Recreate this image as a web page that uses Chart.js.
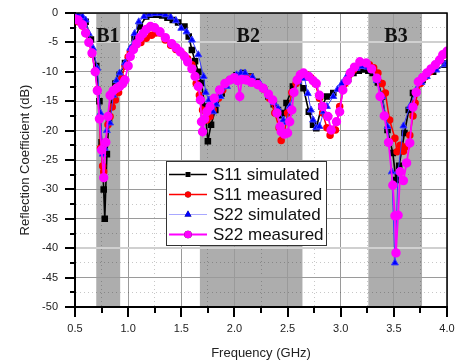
<!DOCTYPE html>
<html>
<head>
<meta charset="utf-8">
<script src="https://cdn.jsdelivr.net/npm/chart.js@4.4.1/dist/chart.umd.min.js"></script>
<style>
  body { margin: 0; background: #fff; }
  canvas { display: block; }
</style>
</head>
<body>
<canvas id="rcChart" width="457" height="361"></canvas>
<script>
/* Values (GHz / dB) */
const s11SimFreq = [
  0.50,0.55,0.60,0.65,0.70,0.73,0.75,0.77,0.78,0.80,
  0.82,0.85,0.88,0.92,0.97,1.03,1.06,1.11,1.17,1.22,
  1.27,1.32,1.37,1.42,1.47,1.53,1.57,1.60,1.63,1.66,
  1.69,1.72,1.75,1.78,1.82,1.88,1.96,2.02,2.08,2.15,
  2.21,2.27,2.32,2.37,2.41,2.44,2.47,2.49,2.55,2.60,
  2.65,2.70,2.74,2.77,2.82,2.87,2.93,3.02,3.07,3.12,
  3.17,3.21,3.26,3.30,3.35,3.39,3.44,3.49,3.52,3.55,
  3.60,3.64,3.68,3.77,3.87,3.98,4.00];
const s11SimDb = [
  -0.3,-0.6,-1.5,-4.5,-9,-15,-22,-30,-35,-24,
  -18,-14,-12,-10.5,-8.5,-6.3,-4.3,-2.3,-0.6,-0.3,
  -0.3,-0.4,-0.8,-1.2,-1.6,-2.3,-4.0,-6.3,-8.2,-10,
  -11.9,-15.9,-21.8,-19,-16.5,-13.7,-11.4,-10.6,-10.2,-10.8,
  -11.7,-12.8,-14.2,-15.5,-16.5,-17.4,-17,-15.3,-12.5,-11.5,
  -12.8,-16.8,-19,-19.6,-15.9,-14.2,-13.6,-12.5,-11.2,-10.2,
  -9.8,-9.6,-9.8,-10.2,-11.8,-14.2,-19.9,-23.8,-28.4,-26,
  -20.4,-16.5,-13.6,-11.4,-10,-8.8,-8.6];

const s11MeasFreq = [
  0.50,0.53,0.57,0.60,0.63,0.66,0.69,0.71,0.73,0.74,
  0.76,0.77,0.79,0.81,0.83,0.85,0.88,0.91,0.94,0.97,
  1.00,1.02,1.05,1.08,1.12,1.17,1.22,1.26,1.30,1.35,
  1.40,1.45,1.52,1.56,1.60,1.64,1.67,1.70,1.74,1.77,
  1.80,1.85,1.89,1.95,2.00,2.08,2.15,2.22,2.28,2.33,
  2.38,2.42,2.44,2.47,2.50,2.54,2.58,2.63,2.68,2.72,
  2.76,2.80,2.83,2.87,2.90,2.95,2.99,3.04,3.08,3.12,
  3.17,3.22,3.27,3.31,3.35,3.39,3.42,3.46,3.51,3.53,
  3.56,3.59,3.62,3.65,3.68,3.70,3.75,3.80,3.84,3.93,
  3.98,4.00];
const s11MeasDb = [
  -1.0,-1.5,-2.2,-3.5,-5,-7,-10,-13,-18,-23,
  -26,-27,-22,-19,-17.6,-16,-14.8,-13.5,-11,-9,
  -7.5,-6.6,-5.8,-5.4,-5,-4.3,-3.8,-3.4,-3.4,-4.6,
  -5.5,-6.2,-7.1,-7.8,-8.8,-12,-14,-16.5,-18.2,-17.6,
  -16.5,-14.5,-13.1,-11.5,-11,-10.5,-11,-12,-13,-14.5,
  -17,-19.5,-21.7,-20.5,-17,-13.5,-12,-10.4,-10.5,-11,
  -12,-14.5,-17,-19.5,-20.8,-19.9,-15.9,-12,-10.5,-9.7,
  -9,-8.6,-8.8,-9.3,-10.2,-12,-13.6,-18.2,-21.3,-23.6,
  -22.5,-23.5,-22.7,-20.8,-17.5,-15.3,-12,-10.8,-10,-8,
  -7.1,-6.8];

const s22SimFreq = [
  0.50,0.53,0.57,0.60,0.63,0.67,0.71,0.74,0.76,0.78,
  0.80,0.83,0.86,0.89,0.92,0.97,1.02,1.06,1.10,1.15,
  1.20,1.25,1.30,1.35,1.40,1.45,1.50,1.55,1.60,1.66,
  1.71,1.73,1.76,1.80,1.83,1.87,1.93,1.98,2.02,2.06,
  2.10,2.17,2.24,2.29,2.33,2.37,2.41,2.46,2.49,2.52,
  2.56,2.60,2.63,2.66,2.69,2.72,2.74,2.77,2.80,2.84,
  2.87,2.93,2.97,3.01,3.05,3.09,3.15,3.20,3.25,3.29,
  3.34,3.39,3.44,3.48,3.51,3.54,3.59,3.65,3.71,3.76,
  3.81,3.90,3.98,4.00];
const s22SimDb = [
  -0.2,-0.3,-0.6,-1.2,-3.5,-6,-9.4,-17,-24,-23,
  -20,-18.7,-14,-11.5,-10.2,-8.5,-6,-3.5,-1.5,-0.6,
  -0.2,-0.1,-0.1,-0.3,-0.7,-1.3,-2.6,-3.2,-4.6,-7.1,
  -10.8,-13.5,-14.8,-16.8,-15.5,-14.2,-12.5,-11.2,-10.5,-10.2,
  -10.2,-10.9,-12,-13,-14.2,-15.2,-16.2,-18.2,-18.6,-15.9,
  -13.5,-11.7,-11,-11.1,-13.7,-16.5,-18.2,-19.5,-19.3,-16.8,
  -15.9,-14.2,-13,-12,-11,-10,-9.4,-9.1,-9.2,-9.7,
  -11.5,-14.2,-19.3,-27,-42.5,-27,-19.2,-15.9,-13.1,-11.8,
  -10.8,-9.7,-8.8,-8.5];

const s22MeasFreq = [
  0.50,0.53,0.57,0.60,0.63,0.66,0.69,0.71,0.73,0.75,
  0.77,0.79,0.81,0.83,0.86,0.89,0.92,0.95,0.97,1.00,
  1.02,1.05,1.08,1.11,1.14,1.17,1.21,1.25,1.30,1.35,
  1.41,1.45,1.49,1.53,1.56,1.60,1.63,1.66,1.68,1.69,
  1.70,1.72,1.74,1.77,1.81,1.86,1.91,1.96,2.00,2.03,
  2.05,2.07,2.11,2.16,2.22,2.27,2.32,2.36,2.40,2.43,
  2.44,2.47,2.50,2.52,2.54,2.56,2.59,2.62,2.65,2.70,
  2.74,2.77,2.80,2.83,2.88,2.91,2.96,2.99,3.02,3.06,
  3.09,3.13,3.18,3.24,3.29,3.34,3.37,3.41,3.45,3.49,
  3.51,3.52,3.54,3.56,3.59,3.62,3.65,3.68,3.71,3.73,
  3.77,3.81,3.85,3.89,3.93,3.96,4.00];
const s22MeasDb = [
  -1.0,-1.2,-2,-3.4,-5,-6.8,-10,-13.2,-18,-23.3,
  -28,-22,-17.6,-14,-13.2,-12.8,-12.5,-12,-11.4,-9,
  -7.4,-6.2,-5.2,-4.2,-3.5,-2.8,-2.3,-2.5,-3.2,-4.2,
  -5.2,-5.9,-6.6,-7.4,-8.3,-9.5,-10.8,-12.5,-14.8,-18.5,
  -20.2,-18,-16.8,-15.9,-14.5,-13.1,-12,-11.4,-11,-11.5,
  -14.2,-11.3,-11.4,-11.8,-12.2,-12.8,-13.8,-14.8,-17,-19.3,
  -20.2,-20.6,-20.4,-18.5,-16.5,-13.5,-11.4,-10.5,-10.2,-10.8,
  -11.5,-12,-14,-15.9,-17.6,-19.9,-18.5,-16.8,-13.1,-11.5,
  -10.2,-9.2,-8.3,-8.5,-9.5,-11.1,-14.2,-17.5,-22,-29.3,
  -34.5,-40.8,-34.4,-27,-28.5,-25.5,-22.1,-16,-13.5,-11.7,
  -11,-10.2,-9.5,-8.8,-8.0,-7.1,-6.5];

/* Shaded operating bands */
const bandNames = ["B1", "B2", "B3"];
const bandStart = [0.70, 1.675, 3.26];
const bandEnd = [0.925, 2.64, 3.765];
const bandLabelAt = [0.81, 2.13, 3.52];

/* Tick labels */
const xTickLabels = ["0.5", "1.0", "1.5", "2.0", "2.5", "3.0", "3.5", "4.0"];
const yTickLabels = ["0", "-5", "-10", "-15", "-20", "-25", "-30", "-35", "-40", "-45", "-50"];

function toPoints(freq, db) {
    return freq.map((f, i) => ({ x: f, y: db[i] }));
}

function isMajor(scale, v) {
    if (v === undefined) return false;
    if (scale === "x") return xTickLabels.includes(v.toFixed(1));
    return yTickLabels.includes(String(v));
}

/* Gray bands + B labels, under the grid */
const bandPlugin = {
    id: "bands",
    beforeDraw(chart) {
        const { ctx, chartArea: a, scales: { x } } = chart;
        ctx.save();
        ctx.fillStyle = "#adadad";
        bandNames.forEach((n, i) => {
            const x0 = x.getPixelForValue(bandStart[i]);
            const x1 = x.getPixelForValue(bandEnd[i]);
            ctx.fillRect(x0, a.top, x1 - x0, a.bottom - a.top);
        });
        ctx.restore();
    },
    beforeDatasetsDraw(chart) {
        const { ctx, chartArea: a, scales: { x } } = chart;
        ctx.save();
        ctx.fillStyle = "#111";
        ctx.font = "bold 20px 'Liberation Serif', 'Times New Roman', serif";
        ctx.textAlign = "center";
        ctx.textBaseline = "alphabetic";
        bandNames.forEach((n, i) => {
            ctx.fillText(n, x.getPixelForValue(bandLabelAt[i]), a.top + 29);
        });
        ctx.restore();
    }
};

/* Frame, tick marks and the boxed legend */
const framePlugin = {
    id: "frame",
    afterDatasetsDraw(chart) {
        const { ctx, chartArea: a, scales: { x, y } } = chart;
        ctx.save();
        ctx.strokeStyle = "#000";
        ctx.lineWidth = 1.5;
        ctx.beginPath();
        ctx.moveTo(a.left, a.top);
        ctx.lineTo(a.right, a.top);
        ctx.lineTo(a.right, a.bottom);
        ctx.stroke();

        ctx.lineWidth = 2;
        x.ticks.forEach(t => {
            const px = Math.round(x.getPixelForValue(t.value));
            const len = isMajor("x", t.value) ? 10 : 6;
            ctx.beginPath();
            ctx.moveTo(px, a.bottom);
            ctx.lineTo(px, a.bottom + len);
            ctx.stroke();
        });
        y.ticks.forEach(t => {
            const py = Math.round(y.getPixelForValue(t.value));
            const len = isMajor("y", t.value) ? 10 : 5;
            ctx.beginPath();
            ctx.moveTo(a.left, py);
            ctx.lineTo(a.left - len, py);
            ctx.stroke();
        });

        // legend box
        const bx = 166, by = 161, bw = 160, bh = 84;
        ctx.fillStyle = "#fff";
        ctx.fillRect(bx, by, bw, bh);
        ctx.strokeStyle = "#333";
        ctx.lineWidth = 1;
        ctx.strokeRect(bx + 0.5, by + 0.5, bw, bh);

        ctx.font = "17px 'Liberation Sans', Arial, sans-serif";
        ctx.textBaseline = "middle";
        ctx.textAlign = "left";
        chart.data.datasets.forEach((ds, i) => {
            const ly = by + 13.5 + i * 20;
            ctx.strokeStyle = ds.legendLine || ds.borderColor;
            ctx.lineWidth = ds.borderWidth;
            ctx.beginPath();
            ctx.moveTo(bx + 3, ly);
            ctx.lineTo(bx + 41, ly);
            ctx.stroke();
            Chart.helpers.drawPoint(ctx, {
                pointStyle: ds.pointStyle,
                radius: ds.pointRadius,
                rotation: 0,
                borderWidth: 0
            }, bx + 22, ly);
            ctx.fillStyle = ds.pointBackgroundColor;
            ctx.fill();
            ctx.fillStyle = "#111";
            ctx.fillText(ds.label, bx + 47, ly + 1);
        });
        ctx.restore();
    }
};

const ctx = document.getElementById("rcChart");

new Chart(ctx, {
    type: "line",
    data: {
        datasets: [
            {
                label: "S11 simulated",
                data: toPoints(s11SimFreq, s11SimDb),
                borderColor: "#000000",
                pointBackgroundColor: "#000000",
                borderWidth: 1.6,
                pointStyle: "rect",
                pointRadius: 3.5,
                order: 4
            },
            {
                label: "S11 measured",
                data: toPoints(s11MeasFreq, s11MeasDb),
                borderColor: "#ff0000",
                pointBackgroundColor: "#ff0000",
                borderWidth: 1.5,
                pointStyle: "circle",
                pointRadius: 3,
                order: 3
            },
            {
                label: "S22 simulated",
                data: toPoints(s22SimFreq, s22SimDb),
                borderColor: "#3a3aff",
                legendLine: "#a8a8ff",
                pointBackgroundColor: "#0000ff",
                borderWidth: 1,
                pointStyle: "triangle",
                pointRadius: 4,
                order: 2
            },
            {
                label: "S22 measured",
                data: toPoints(s22MeasFreq, s22MeasDb),
                borderColor: "#ff00ff",
                pointBackgroundColor: "#ff00ff",
                borderWidth: 1.8,
                pointStyle: "circle",
                pointRadius: 3.8,
                order: 1
            }
        ]
    },
    options: {
        responsive: false,
        animation: false,
        layout: { padding: { left: 0, top: 13, right: 10, bottom: 0 } },
        elements: {
            line: { tension: 0 },
            point: { borderWidth: 0 }
        },
        plugins: {
            legend: { display: false },
            tooltip: { enabled: false }
        },
        scales: {
            x: {
                type: "linear",
                min: 0.5,
                max: 4.0,
                afterFit: s => {
                    s.height = 54;
                    s.paddingLeft = 0;
                    s.paddingRight = 0;
                },
                ticks: {
                    stepSize: 0.25,
                    autoSkip: false,
                    maxRotation: 0,
                    padding: 15,
                    color: "#222",
                    font: { family: "'Liberation Sans', Arial, sans-serif", size: 11 },
                    callback: v => isMajor("x", v) ? v.toFixed(1) : ""
                },
                grid: {
                    drawTicks: false,
                    color: c => isMajor("x", c.tick && c.tick.value) ? "#9a9a9a" : "rgba(0,0,0,0.22)",
                    lineWidth: 1
                },
                border: {
                    color: "#000",
                    width: 2,
                    dash: c => (c.tick && !isMajor("x", c.tick.value)) ? [1, 3] : []
                },
                title: {
                    display: true,
                    text: "Frequency (GHz)",
                    color: "#222",
                    font: { family: "'Liberation Sans', Arial, sans-serif", size: 13 },
                    padding: { top: 0, bottom: 0 }
                }
            },
            y: {
                min: -50,
                max: 0,
                afterFit: s => {
                    s.width = 75;
                    s.paddingTop = 0;
                    s.paddingBottom = 0;
                },
                ticks: {
                    stepSize: 2.5,
                    autoSkip: false,
                    padding: 17,
                    color: "#222",
                    font: { family: "'Liberation Sans', Arial, sans-serif", size: 11 },
                    callback: v => isMajor("y", v) ? String(v) : ""
                },
                grid: {
                    drawTicks: false,
                    color: c => {
                        const v = c.tick && c.tick.value;
                        if (v === -5 || v === -40) return "#d0d0d0";
                        return isMajor("y", v) ? "#9a9a9a" : "rgba(0,0,0,0.22)";
                    },
                    lineWidth: c => {
                        const v = c.tick && c.tick.value;
                        return (v === -5 || v === -40) ? 2 : 1;
                    }
                },
                border: {
                    color: "#000",
                    width: 2,
                    dash: c => (c.tick && !isMajor("y", c.tick.value)) ? [1, 3] : []
                },
                title: {
                    display: true,
                    text: "Reflection Coefficient (dB)",
                    color: "#222",
                    font: { family: "'Liberation Sans', Arial, sans-serif", size: 13 },
                    padding: { top: 18, bottom: 0 }
                }
            }
        }
    },
    plugins: [bandPlugin, framePlugin]
});
</script>
</body>
</html>
